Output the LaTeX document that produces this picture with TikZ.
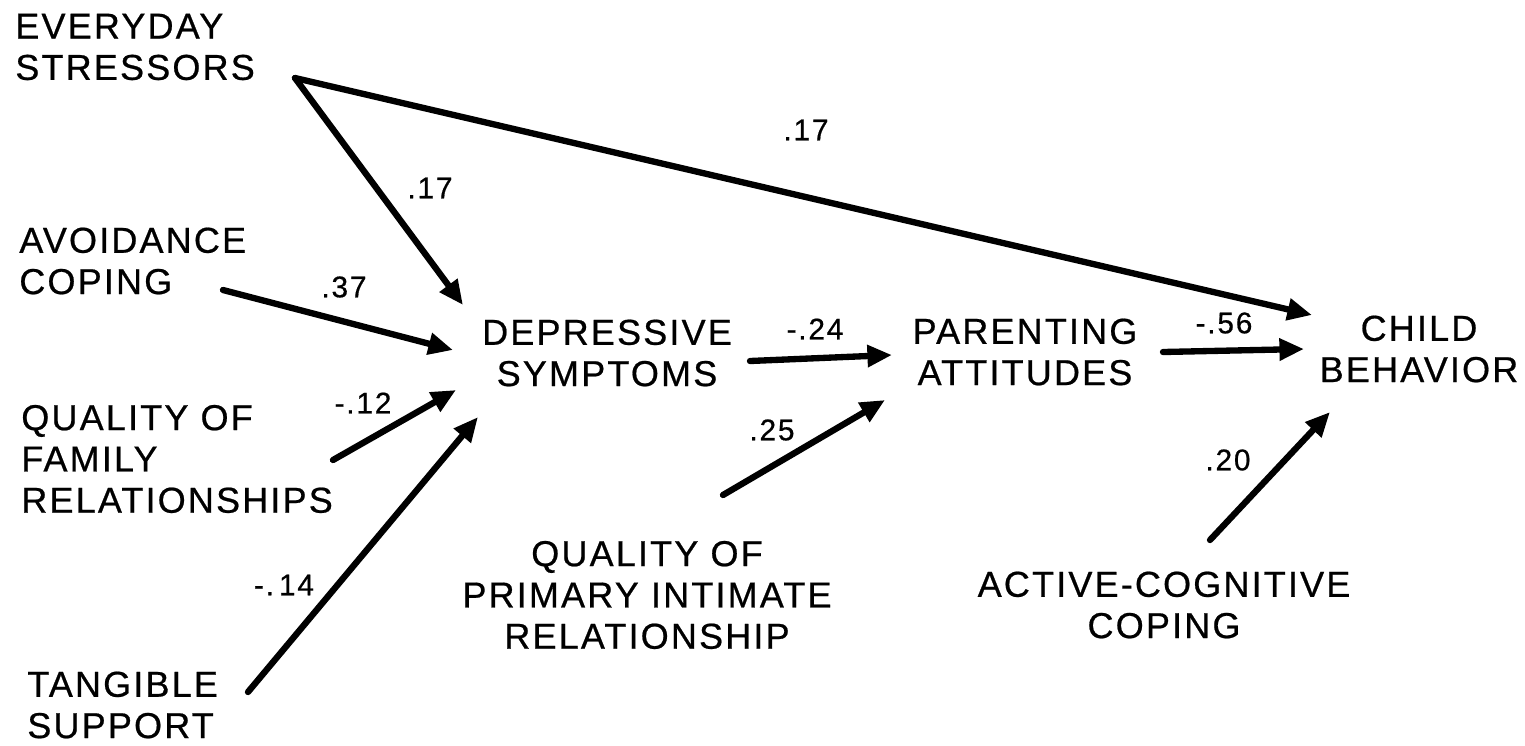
\documentclass[tikz,border=0pt]{standalone}
\usepackage{fontspec}
\setmainfont{Liberation Sans}[LetterSpace=6,FakeBold=0.6]
\usetikzlibrary{arrows.meta}
\begin{document}
\begin{tikzpicture}[x=0.02cm,y=-0.02cm,
  lbl/.style={inner sep=0pt,font=\fontsize{20.5}{23.5}\selectfont},
  coef/.style={inner sep=0pt,font=\fontsize{17}{19}\selectfont},
  arr/.style={line width=3.6pt,line cap=round,-{Triangle[length=14pt,width=12pt]}}]
\useasboundingbox (0,0) rectangle (1525,745);
% variables
\node[lbl,align=left,anchor=west] (es) at (15,47) {EVERYDAY\\STRESSORS};
\node[lbl,align=left,anchor=west] (av) at (19,261) {AVOIDANCE\\COPING};
\node[lbl,align=left,anchor=west] (qf) at (21,459) {QUALITY OF\\FAMILY\\RELATIONSHIPS};
\node[lbl,align=left,anchor=west] (ts) at (27,705) {TANGIBLE\\SUPPORT};
\node[lbl,align=center] (ds) at (607,353) {DEPRESSIVE\\SYMPTOMS};
\node[lbl,align=center] (pa) at (1025,352) {PARENTING\\ATTITUDES};
\node[lbl,align=center] (cb) at (1419,349) {CHILD\\BEHAVIOR};
\node[lbl,align=center] (qp) at (647,595) {QUALITY OF\\PRIMARY INTIMATE\\RELATIONSHIP};
\node[lbl,align=center] (ac) at (1164,605) {ACTIVE-COGNITIVE\\COPING};
% connector end points
\coordinate (es-o) at (295,78);
\coordinate (ds-a) at (463,305);
\coordinate (cb-a) at (1312,315);
\coordinate (av-o) at (223,290);
\coordinate (ds-b) at (453,350);
\coordinate (qf-o) at (333,460);
\coordinate (ds-c) at (456,390);
\coordinate (ts-o) at (248,692);
\coordinate (ds-d) at (478,417);
\coordinate (ds-o) at (750,361);
\coordinate (pa-a) at (892,355);
\coordinate (qp-o) at (723,495);
\coordinate (pa-b) at (885,400);
\coordinate (pa-o) at (1163,352);
\coordinate (cb-b) at (1304,349);
\coordinate (ac-o) at (1210,540);
\coordinate (cb-c) at (1330,412);
% connectors
\draw[arr] (es-o) -- (ds-a);
\draw[arr] (es-o) -- (cb-a);
\draw[arr] (av-o) -- (ds-b);
\draw[arr] (qf-o) -- (ds-c);
\draw[arr] (ts-o) -- (ds-d);
\draw[arr] (ds-o) -- (pa-a);
\draw[arr] (qp-o) -- (pa-b);
\draw[arr] (pa-o) -- (cb-b);
\draw[arr] (ac-o) -- (cb-c);
% coefficients
\node[coef] (c1) at (430,188) {.17};
\node[coef] (c2) at (806,130) {.17};
\node[coef] (c3) at (344,287) {.37};
\node[coef] (c4) at (363,403) {-.12};
\node[coef] (c5) at (284,585) {-.\,14};
\node[coef] (c6) at (815,329) {-.24};
\node[coef] (c7) at (772,430) {.25};
\node[coef] (c8) at (1224,323) {-.56};
\node[coef] (c9) at (1228,460) {.20};
\end{tikzpicture}
\end{document}
